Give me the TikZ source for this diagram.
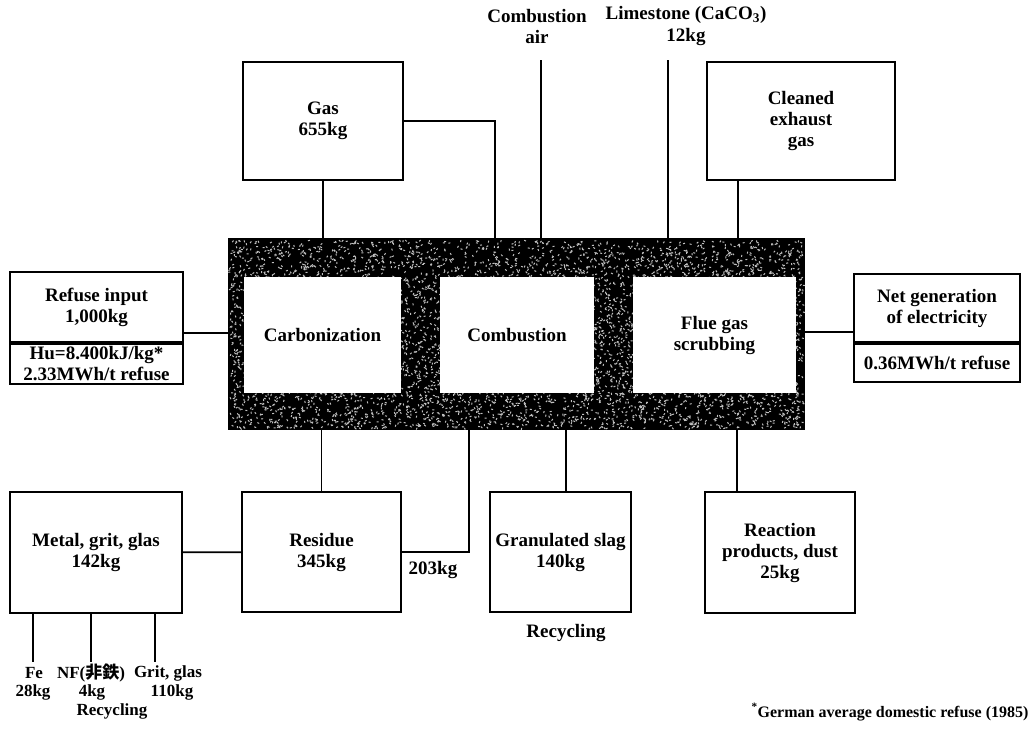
\documentclass[tikz,border=0pt]{standalone}
\usepackage{fontspec}
\setmainfont{Liberation Serif}
\newfontfamily\cjkfont{Noto Sans CJK JP}

\begin{document}
\begin{tikzpicture}[
  x=1pt, y=-1pt,
  link/.style={line width=1.8pt},
  box/.style={rectangle, draw=black, line width=1.8pt, fill=white, align=center, inner sep=1pt, font=\bfseries\fontsize{19}{21}\selectfont},
  stage/.style={rectangle, fill=white, align=center, minimum height=116pt, inner sep=1pt, font=\bfseries\fontsize{19}{21}\selectfont},
  lbl/.style={align=center, inner sep=0pt, font=\bfseries\fontsize{19}{21}\selectfont},
  small/.style={lbl, font=\bfseries\fontsize{17}{19}\selectfont},
  speck/.style={white!75!black, line width=1pt}
]
\fill[white] (0,0) rectangle (1029,732);
\useasboundingbox (0,0) rectangle (1029,732);

\node[fill=black, minimum width=577pt, minimum height=192pt, inner sep=0pt] (frame) at (516.5,334) {};
\pgfmathsetseed{42}
\foreach \k in {1,...,6000}{
  \pgfmathsetmacro{\px}{230+573*rnd}
  \pgfmathsetmacro{\py}{240+188*rnd}
  \pgfmathsetmacro{\pa}{180*rnd}
  \draw[speck] (\px,\py) -- ++(\pa:2);
}
\node[stage, minimum width=157pt] (carb) at (322.5,335) {Carbonization};
\node[stage, minimum width=154pt] (comb) at (517,335) {Combustion};
\node[stage, minimum width=163pt] (flue) at (714.5,335) {Flue gas\\scrubbing};

\node[box, minimum width=160pt, minimum height=118pt] (gas) at (323,121) {Gas\\655kg};
\node[box, minimum width=188pt, minimum height=118pt] (cleaned) at (801,121) {Cleaned\\exhaust\\gas};
\node[lbl] (airlbl) at (537,26) {Combustion\\air};
\node[lbl] (limelbl) at (686,26) {Limestone (CaCO\textsubscript{3})\\12kg};

\node[box, minimum width=173pt, minimum height=70pt] (refuse) at (96.5,307) {Refuse input\\1,000kg};
\node[box, minimum width=173pt, minimum height=40pt, anchor=north, inner sep=0pt] (heat) at (refuse.south) {Hu=8.400kJ/kg*\\2.33MWh/t refuse};
\node[box, minimum width=166pt, minimum height=68pt] (net) at (937,308) {Net generation\\of electricity};
\node[box, minimum width=166pt, minimum height=38pt, anchor=north] (netval) at (net.south) {0.36MWh/t refuse};

\node[box, minimum width=172pt, minimum height=121pt] (metal) at (96,552.5) {Metal, grit, glas\\142kg};
\node[box, minimum width=159pt, minimum height=120pt] (residue) at (321.5,552) {Residue\\345kg};
\node[box, minimum width=141pt, minimum height=120pt] (slag) at (560.5,552) {Granulated slag\\140kg};
\node[box, minimum width=150pt, minimum height=121pt] (dust) at (780,552.5) {Reaction\\products, dust\\25kg};

\coordinate (gasin) at (495,238);
\coordinate (airtop) at (541,60);
\coordinate (limetop) at (668,60);
\coordinate (clout) at (738,180);
\coordinate (refout) at (183,333);
\coordinate (netin) at (854,332);
\coordinate (flytap) at (469,430);
\coordinate (slagtap) at (566,492);
\coordinate (dusttap) at (737,492);

\draw[link] (gas.south) -- (gas.south |- frame.north);
\draw[link] (gas.east) -| (gasin);
\draw[link] (airtop) -- (airtop |- frame.north);
\draw[link] (limetop) -- (limetop |- frame.north);
\draw[link] (clout) -- (clout |- frame.north);
\draw[link] (refout) -- (refout -| frame.west);
\draw[link] (netin -| frame.east) -- (netin);
\draw[link] (residue.north |- frame.south) -- (residue.north);
\draw[link] (flytap) |- (residue.east);
\draw[link] (slagtap |- frame.south) -- (slagtap);
\draw[link] (dusttap |- frame.south) -- (dusttap);
\draw[link] (metal) -- (residue);

\foreach \n/\x in {fe/33, nf/91, grit/155}{
  \coordinate (\n-end) at (\x,662);
  \draw[link] (\n-end |- metal.south) -- (\n-end);
}

\node[lbl] (flylbl) at (433,570) {203kg};
\node[small] (felbl) at (34,673) {Fe};
\node[small] (nflbl) at (91,673) {NF({\cjkfont 非鉄})};
\node[small] (gritlbl) at (168,673) {Grit, glas};
\node[small] (fekg) at (33,692) {28kg};
\node[small] (nfkg) at (92,692) {4kg};
\node[small] (gritkg) at (172,692) {110kg};
\node[small] (recyleft) at (112,711) {Recycling};
\node[lbl] (recymid) at (566,633) {Recycling};
\node[lbl, font=\bfseries\fontsize{16}{19}\selectfont] (note) at (890,712) {\textsuperscript{*}German average domestic refuse (1985)};
\end{tikzpicture}
\end{document}
